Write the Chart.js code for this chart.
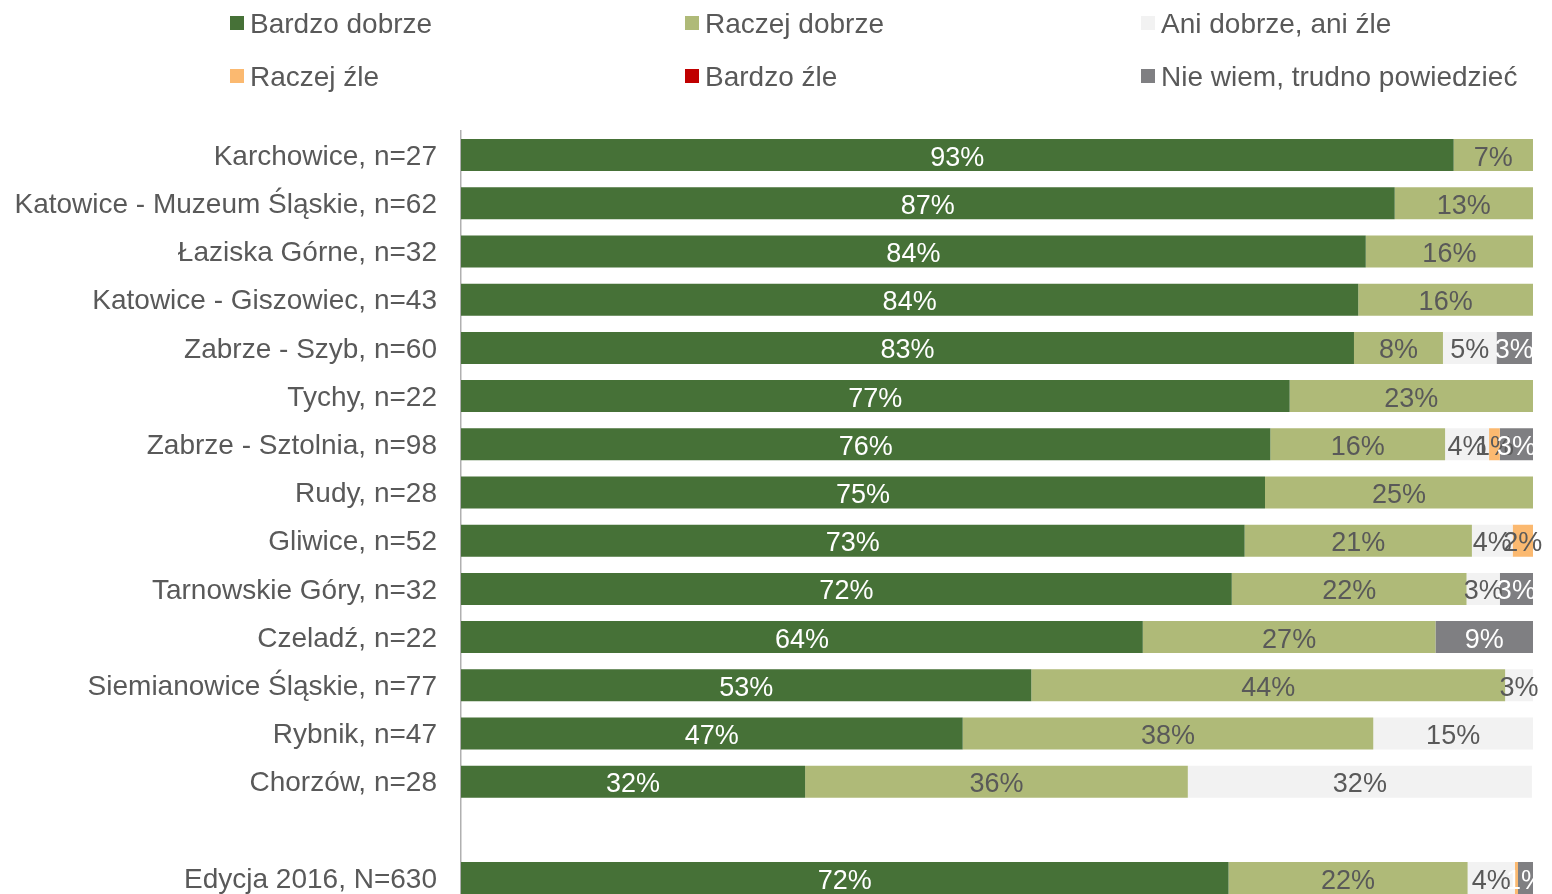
<!DOCTYPE html>
<html>
<head>
<meta charset="utf-8">
<script src="https://cdn.jsdelivr.net/npm/chart.js@4/dist/chart.umd.min.js"></script>
<style>
html,body{margin:0;padding:0;background:#fff;overflow:hidden;}
canvas{display:block;}
</style>
</head>
<body>
<canvas id="c" width="1552" height="943" style="width:1552px;height:943px"></canvas>
<script>
const categories = [
  "Karchowice, n=27",
  "Katowice - Muzeum Śląskie, n=62",
  "Łaziska Górne, n=32",
  "Katowice - Giszowiec, n=43",
  "Zabrze - Szyb, n=60",
  "Tychy, n=22",
  "Zabrze - Sztolnia, n=98",
  "Rudy, n=28",
  "Gliwice, n=52",
  "Tarnowskie Góry, n=32",
  "Czeladź, n=22",
  "Siemianowice Śląskie, n=77",
  "Rybnik, n=47",
  "Chorzów, n=28",
  "",
  "Edycja 2016, N=630"
];
const seriesNames = ["Bardzo dobrze","Raczej dobrze","Ani dobrze, ani źle","Raczej źle","Bardzo źle","Nie wiem, trudno powiedzieć"];
const bardzoDobrze = [92.6, 87.1, 84.4, 83.7, 83.3, 77.3, 75.5, 75.0, 73.1, 71.9, 63.6, 53.2, 46.8, 32.1, null, 71.6];
const raczejDobrze = [7.4, 12.9, 15.6, 16.3, 8.3, 22.7, 16.3, 25.0, 21.2, 21.9, 27.3, 44.2, 38.3, 35.7, null, 22.3];
const aniDobrzeAniZle = [0, 0, 0, 0, 5.0, 0, 4.1, 0, 3.8, 3.1, 0, 2.6, 14.9, 32.1, null, 4.4];
const raczejZle = [0, 0, 0, 0, 0, 0, 1.0, 0, 1.9, 0, 0, 0, 0, 0, null, 0.3];
const bardzoZle = [0, 0, 0, 0, 0, 0, 0, 0, 0, 0, 0, 0, 0, 0, null, 0];
const nieWiem = [0, 0, 0, 0, 3.3, 0, 3.1, 0, 0, 3.1, 9.1, 0, 0, 0, null, 1.4];

const colors = ["#467137", "#afba78", "#f2f2f2", "#fbb970", "#c00000", "#7f7f82"];
const labelColors = ["#ffffff", "#595959", "#595959", "#595959", "#ffffff", "#ffffff"];
const FONT = "'Liberation Sans', Arial, sans-serif";
const TEXT = "#595959";

const seriesData = [bardzoDobrze, raczejDobrze, aniDobrzeAniZle, raczejZle, bardzoZle, nieWiem];

const valueLabels = {
  id: 'valueLabels',
  afterDatasetsDraw(chart) {
    const ctx = chart.ctx;
    ctx.save();
    ctx.font = "27px " + FONT;
    ctx.textAlign = "center";
    ctx.textBaseline = "middle";
    chart.data.datasets.forEach((ds, di) => {
      const meta = chart.getDatasetMeta(di);
      meta.data.forEach((el, i) => {
        const v = ds.data[i];
        if (v == null || v < 0.5) return;
        const cx = (el.x + el.base) / 2;
        ctx.fillStyle = labelColors[di];
        ctx.fillText(Math.round(v) + "%", cx, el.y + 3);
      });
    });
    ctx.restore();
  }
};

const gridLegend = {
  id: 'gridLegend',
  afterDraw(chart) {
    const ctx = chart.ctx;
    const colX = [230, 685, 1141];
    const rowY = [23, 76];
    ctx.save();
    ctx.font = "28px " + FONT;
    ctx.textBaseline = "middle";
    ctx.textAlign = "left";
    chart.data.datasets.forEach((ds, i) => {
      const x = colX[i % 3], y = rowY[Math.floor(i / 3)];
      ctx.fillStyle = ds.backgroundColor;
      ctx.fillRect(x, y - 7, 14, 14);
      ctx.fillStyle = TEXT;
      ctx.fillText(ds.label, x + 20, y + 2);
    });
    ctx.restore();
  }
};

new Chart(document.getElementById('c'), {
  type: 'bar',
  data: {
    labels: categories,
    datasets: seriesNames.map((name, i) => ({
      label: name,
      data: seriesData[i],
      backgroundColor: colors[i],
      borderWidth: 0,
      barPercentage: 0.664,
      categoryPercentage: 1.0
    }))
  },
  options: {
    indexAxis: 'y',
    responsive: false,
    animation: false,
    devicePixelRatio: 1,
    layout: { padding: { top: 131, right: 19, bottom: 0, left: 0 } },
    plugins: { legend: { display: false }, tooltip: { enabled: false } },
    scales: {
      x: { stacked: true, min: 0, max: 100, display: false },
      y: {
        stacked: true,
        grid: { display: false, drawTicks: false },
        border: { display: true, color: "#b0b0b0", width: 1.5 },
        ticks: { color: TEXT, font: { family: FONT, size: 28 }, padding: 24, autoSkip: false, labelOffset: 2 },
        afterFit(scale) { scale.width = 461; }
      }
    }
  },
  plugins: [valueLabels, gridLegend]
});
</script>
</body>
</html>
